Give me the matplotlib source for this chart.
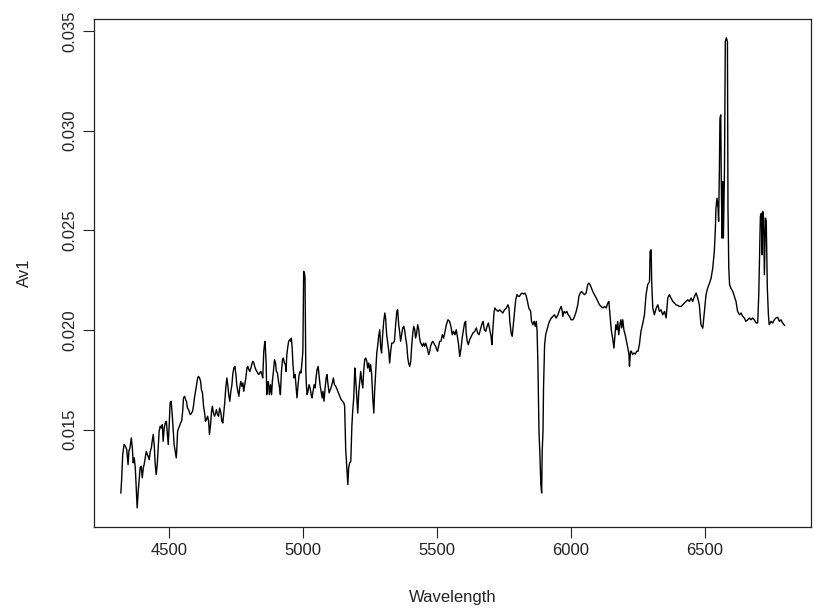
import numpy as np
import matplotlib
matplotlib.use("Agg")
import matplotlib.pyplot as plt

#*************************************************
# Spectrum Av1, in pieces
#*************************************************
wl_a = [4319, 4322, 4326, 4331, 4336, 4341, 4346, 4349, 4353, 4358, 4362, 4365, 4369, 4373,
        4377, 4380, 4384, 4388, 4391, 4395, 4399, 4403, 4406, 4410, 4414, 4418, 4421, 4425,
        4429, 4433, 4436, 4440, 4444, 4447, 4451, 4455, 4459, 4462, 4466, 4470, 4474, 4477,
        4481, 4485, 4489, 4492, 4496, 4500, 4503, 4507, 4511, 4515, 4518, 4522, 4526, 4528,
        4531, 4535, 4538, 4542, 4546, 4550, 4553, 4557, 4561, 4564, 4568, 4572, 4576, 4579,
        4583, 4587, 4591, 4594, 4598, 4602, 4606, 4609, 4613, 4617, 4620, 4624, 4628, 4632,
        4635, 4639, 4643, 4647, 4650, 4654, 4658, 4661, 4665, 4669, 4673, 4676, 4680, 4684,
        4688]
av1_a = [0.01182, 0.01249, 0.01375, 0.01425, 0.01416, 0.01400, 0.01324, 0.01391, 0.01408,
         0.01458, 0.01408, 0.01333, 0.01358, 0.01308, 0.01191, 0.01107, 0.01191, 0.01258,
         0.01308, 0.01316, 0.01258, 0.01308, 0.01324, 0.01358, 0.01391, 0.01375, 0.01366,
         0.01349, 0.01391, 0.01408, 0.01441, 0.01475, 0.01416, 0.01333, 0.01274, 0.01324,
         0.01425, 0.01491, 0.01517, 0.01508, 0.01525, 0.01441, 0.01508, 0.01533, 0.01542,
         0.01491, 0.01425, 0.01533, 0.01634, 0.01642, 0.01575, 0.01491, 0.01425, 0.01391,
         0.01358, 0.01400, 0.01491, 0.01508, 0.01517, 0.01533, 0.01542, 0.01592, 0.01659,
         0.01667, 0.01650, 0.01642, 0.01608, 0.01600, 0.01583, 0.01575, 0.01583, 0.01592,
         0.01625, 0.01659, 0.01692, 0.01725, 0.01759, 0.01767, 0.01759, 0.01742, 0.01700,
         0.01684, 0.01617, 0.01583, 0.01542, 0.01550, 0.01567, 0.01542, 0.01475, 0.01525,
         0.01592, 0.01617, 0.01583, 0.01567, 0.01583, 0.01600, 0.01575, 0.01567, 0.01608]

wl_b = [4693, 4696, 4700, 4704, 4707, 4711, 4715, 4719, 4722, 4726, 4730, 4734, 4737, 4741,
        4745, 4749, 4752, 4756, 4760, 4763, 4767, 4771, 4775, 4778, 4782, 4786, 4790, 4793,
        4797, 4801, 4805, 4808, 4812, 4816, 4819, 4823, 4827, 4831, 4834, 4838, 4842, 4846,
        4849, 4853, 4857, 4859, 4862, 4864, 4867, 4870, 4874, 4878, 4882, 4885, 4889, 4893,
        4897, 4900, 4904, 4908, 4912, 4915, 4919, 4923, 4926, 4930, 4934, 4936, 4939, 4943,
        4946, 4950, 4954, 4956, 4959, 4962, 4966, 4970, 4974, 4977, 4981, 4985, 4989, 4992,
        4996, 4999, 5001, 5002, 5005, 5007, 5010, 5012, 5015, 5018, 5022, 5026, 5030, 5033,
        5037, 5041, 5045, 5048, 5052, 5056, 5059, 5063, 5067, 5071, 5074, 5078, 5082, 5086,
        5089, 5093, 5097]
av1_b = [0.01583, 0.01542, 0.01533, 0.01592, 0.01634, 0.01709, 0.01759, 0.01717, 0.01675,
         0.01642, 0.01692, 0.01725, 0.01776, 0.01809, 0.01817, 0.01776, 0.01725, 0.01692,
         0.01667, 0.01709, 0.01742, 0.01717, 0.01734, 0.01692, 0.01725, 0.01759, 0.01809,
         0.01817, 0.01801, 0.01792, 0.01809, 0.01826, 0.01842, 0.01834, 0.01817, 0.01801,
         0.01792, 0.01784, 0.01776, 0.01784, 0.01792, 0.01776, 0.01759, 0.01893, 0.01943,
         0.01909, 0.01826, 0.01675, 0.01725, 0.01742, 0.01675, 0.01725, 0.01675, 0.01742,
         0.01792, 0.01851, 0.01834, 0.01792, 0.01784, 0.01742, 0.01709, 0.01675, 0.01792,
         0.01851, 0.01859, 0.01834, 0.01826, 0.01792, 0.01876, 0.01918, 0.01943, 0.01951,
         0.01943, 0.01959, 0.01909, 0.01826, 0.01759, 0.01776, 0.01709, 0.01659, 0.01725,
         0.01776, 0.01792, 0.01784, 0.01842, 0.01893, 0.02160, 0.02294, 0.02285, 0.02260,
         0.01792, 0.01725, 0.01675, 0.01692, 0.01725, 0.01709, 0.01675, 0.01659, 0.01692,
         0.01725, 0.01709, 0.01759, 0.01801, 0.01817, 0.01776, 0.01725, 0.01692, 0.01659,
         0.01692, 0.01642, 0.01709, 0.01759, 0.01776, 0.01725, 0.01684]

wl_c = [5104, 5109, 5113, 5117, 5122, 5127, 5132, 5137, 5142, 5147, 5152, 5155, 5159, 5163,
        5167, 5170, 5174, 5178, 5182, 5185, 5189, 5193, 5196, 5200, 5204, 5208, 5211, 5215,
        5219, 5223, 5226, 5230, 5234, 5238, 5241, 5245, 5249, 5252, 5256, 5260, 5264, 5267,
        5271, 5275, 5279, 5282, 5286, 5290, 5293, 5297, 5301, 5305, 5308, 5312, 5316, 5320,
        5323, 5327, 5331, 5336, 5341, 5346, 5350, 5353, 5357, 5361, 5364, 5368, 5372, 5376,
        5379, 5383, 5387, 5391, 5394, 5398, 5402, 5405, 5409, 5413, 5417, 5420, 5424, 5428,
        5432, 5435, 5439, 5443, 5446, 5450, 5454, 5458, 5461, 5465, 5469, 5473, 5476, 5480,
        5484, 5488, 5491, 5495, 5499, 5502, 5506, 5510]
av1_c = [0.01709, 0.01734, 0.01759, 0.01725, 0.01717, 0.01700, 0.01684, 0.01667, 0.01650,
         0.01642, 0.01634, 0.01617, 0.01400, 0.01308, 0.01224, 0.01308, 0.01333, 0.01341,
         0.01517, 0.01592, 0.01659, 0.01809, 0.01759, 0.01675, 0.01583, 0.01692, 0.01734,
         0.01792, 0.01742, 0.01709, 0.01792, 0.01851, 0.01859, 0.01842, 0.01809, 0.01834,
         0.01792, 0.01826, 0.01776, 0.01659, 0.01583, 0.01692, 0.01792, 0.01884, 0.01926,
         0.01968, 0.02001, 0.01909, 0.01884, 0.01976, 0.02043, 0.02085, 0.02060, 0.01976,
         0.01934, 0.01893, 0.01834, 0.01893, 0.01934, 0.01934, 0.01943, 0.02035, 0.02093,
         0.02101, 0.02026, 0.01984, 0.01943, 0.01976, 0.02010, 0.02018, 0.02001, 0.01959,
         0.01926, 0.01859, 0.01834, 0.01817, 0.01842, 0.01909, 0.01976, 0.02018, 0.02001,
         0.01959, 0.01984, 0.02026, 0.02001, 0.01959, 0.01934, 0.01926, 0.01918, 0.01934,
         0.01918, 0.01934, 0.01918, 0.01901, 0.01876, 0.01893, 0.01918, 0.01934, 0.01943,
         0.01934, 0.01926, 0.01918, 0.01901, 0.01893, 0.01918, 0.01943]

wl_d = [5515, 5520, 5525, 5530, 5535, 5541, 5547, 5552, 5557, 5562, 5567, 5572, 5576, 5580,
        5585, 5590, 5594, 5599, 5603, 5607, 5609, 5613, 5617, 5622, 5628, 5634, 5641, 5647,
        5652, 5657, 5662, 5667, 5672, 5677, 5682, 5687, 5692, 5697, 5702, 5705, 5709, 5713,
        5716, 5721, 5728, 5734, 5740, 5746, 5752, 5759, 5765, 5769, 5772, 5777, 5781, 5785,
        5790, 5794, 5799, 5804, 5808, 5813, 5818, 5823, 5828, 5833, 5838, 5843]
av1_d = [0.01943, 0.01976, 0.01959, 0.01993, 0.02026, 0.02051, 0.02043, 0.02018, 0.01976,
         0.01993, 0.01976, 0.02001, 0.01968, 0.01934, 0.01867, 0.01909, 0.01959, 0.02001,
         0.02035, 0.02043, 0.01984, 0.01943, 0.01926, 0.01951, 0.01968, 0.01984, 0.01993,
         0.02010, 0.01984, 0.01976, 0.02001, 0.02026, 0.02043, 0.02001, 0.01993, 0.02018,
         0.02035, 0.02001, 0.01968, 0.01926, 0.02010, 0.02085, 0.02110, 0.02101, 0.02093,
         0.02101, 0.02093, 0.02085, 0.02101, 0.02110, 0.02126, 0.02110, 0.02043, 0.01984,
         0.01968, 0.02026, 0.02093, 0.02151, 0.02177, 0.02168, 0.02168, 0.02180, 0.02185,
         0.02180, 0.02185, 0.02173, 0.02143, 0.02110]

wl_e = [5850, 5853, 5858, 5863, 5867, 5871, 5874, 5877, 5881, 5884, 5888, 5891, 5893, 5896,
        5898, 5902, 5906, 5911, 5916, 5920, 5927, 5933, 5939, 5945, 5952, 5958, 5964, 5968,
        5970, 5975, 5980, 5985, 5990, 5995, 6001, 6008, 6014, 6020, 6026, 6030, 6035, 6040,
        6045, 6051, 6057, 6063, 6067, 6072, 6077, 6082, 6088, 6095, 6101, 6107, 6113, 6120,
        6126, 6132, 6138, 6142, 6144, 6147, 6151, 6154, 6157, 6161, 6164, 6168, 6172, 6175,
        6179, 6183, 6187, 6190, 6194, 6198, 6203, 6208, 6213, 6217, 6219, 6223, 6226, 6231,
        6236, 6241, 6246, 6251, 6256]
av1_e = [0.02093, 0.02043, 0.02026, 0.02043, 0.02018, 0.02043, 0.01993, 0.01826, 0.01492,
         0.01391, 0.01224, 0.01182, 0.01391, 0.01492, 0.01709, 0.01926, 0.01976, 0.02001,
         0.02026, 0.02043, 0.02060, 0.02068, 0.02076, 0.02060, 0.02076, 0.02101, 0.02118,
         0.02093, 0.02068, 0.02093, 0.02085, 0.02093, 0.02076, 0.02068, 0.02051, 0.02051,
         0.02068, 0.02093, 0.02126, 0.02168, 0.02185, 0.02193, 0.02185, 0.02177, 0.02185,
         0.02227, 0.02235, 0.02227, 0.02210, 0.02193, 0.02177, 0.02160, 0.02143, 0.02126,
         0.02118, 0.02110, 0.02118, 0.02110, 0.02135, 0.02143, 0.02110, 0.02060, 0.02001,
         0.01976, 0.01951, 0.01909, 0.01959, 0.02026, 0.02001, 0.02043, 0.01976, 0.02026,
         0.02051, 0.02010, 0.02051, 0.02001, 0.01976, 0.01943, 0.01909, 0.01876, 0.01817,
         0.01893, 0.01893, 0.01876, 0.01884, 0.01879, 0.01893, 0.01893, 0.01926]

wl_f = [6262, 6269, 6275, 6281, 6287, 6294, 6296, 6300, 6302, 6306, 6312, 6319, 6325, 6331,
        6337, 6343, 6350, 6356, 6362, 6368, 6374, 6381, 6387, 6393, 6399, 6406, 6412, 6418,
        6424, 6430, 6437, 6443, 6449, 6455, 6462, 6468, 6474, 6480, 6486, 6493, 6499, 6505,
        6511, 6518, 6524, 6530, 6536, 6540, 6542, 6546, 6550, 6552, 6555, 6557, 6560, 6562,
        6565, 6567, 6570, 6574, 6577, 6581, 6585, 6587, 6590, 6593, 6598, 6605, 6611, 6617,
        6623, 6630, 6636, 6642, 6648, 6654, 6661, 6667, 6673, 6679, 6685, 6692, 6698, 6702,
        6705, 6708, 6712, 6714, 6717, 6720, 6723, 6727, 6730, 6734, 6738, 6741, 6748, 6754,
        6760, 6766, 6773, 6779, 6785, 6791, 6798]
av1_f = [0.01993, 0.02035, 0.02076, 0.02177, 0.02227, 0.02243, 0.02394, 0.02402, 0.02243,
         0.02110, 0.02076, 0.02110, 0.02126, 0.02093, 0.02101, 0.02076, 0.02093, 0.02060,
         0.02160, 0.02177, 0.02160, 0.02143, 0.02135, 0.02126, 0.02123, 0.02118, 0.02118,
         0.02126, 0.02135, 0.02143, 0.02151, 0.02143, 0.02160, 0.02143, 0.02168, 0.02185,
         0.02160, 0.02126, 0.02026, 0.02009, 0.02093, 0.02177, 0.02210, 0.02235, 0.02260,
         0.02310, 0.02394, 0.02511, 0.02611, 0.02661, 0.02611, 0.02544, 0.02811, 0.03062,
         0.03079, 0.02745, 0.02461, 0.02745, 0.02461, 0.02811, 0.03446, 0.03466, 0.03446,
         0.02611, 0.02310, 0.02227, 0.02210, 0.02193, 0.02168, 0.02143, 0.02093, 0.02076,
         0.02085, 0.02068, 0.02060, 0.02043, 0.02051, 0.02060, 0.02051, 0.02060, 0.02051,
         0.02035, 0.02035, 0.02177, 0.02377, 0.02569, 0.02586, 0.02377, 0.02594, 0.02561,
         0.02277, 0.02561, 0.02544, 0.02210, 0.02076, 0.02026, 0.02043, 0.02035, 0.02051,
         0.02060, 0.02063, 0.02043, 0.02051, 0.02035, 0.02023]

x_ticks = [4500, 5000, 5500, 6000, 6500]
y_ticks = [0.015, 0.020, 0.025, 0.030, 0.035]
y_tick_labels = ["0.015", "0.020", "0.025", "0.030", "0.035"]

wavelength = np.concatenate([wl_a, wl_b, wl_c, wl_d, wl_e, wl_f])
av1 = np.concatenate([av1_a, av1_b, av1_c, av1_d, av1_e, av1_f])

plt.rcParams["font.family"] = ["Liberation Sans", "DejaVu Sans"]

fig = plt.figure(figsize=(8.15, 6.14), dpi=100)
ax = fig.add_axes([0.1157, 0.1422, 0.8794, 0.8269])

ax.plot(wavelength, av1, color="black", lw=1.0)
ax.margins(0.04)

ax.set_xticks(x_ticks)
ax.set_yticks(y_ticks)
ax.set_yticklabels(y_tick_labels, rotation=90, va="center")
ax.tick_params(direction="out", length=8, width=0.8, labelsize=12, colors="#222222")
ax.tick_params(axis="x", pad=4)
ax.tick_params(axis="y", pad=4)
for s in ax.spines.values():
    s.set_linewidth(0.9)
    s.set_color("#222222")

ax.set_xlabel("Wavelength", fontsize=12, color="#222222", va="center")
ax.xaxis.set_label_coords(0.5, -0.140)
ax.set_ylabel("Av1", fontsize=12, color="#222222", va="center")
ax.yaxis.set_label_coords(-0.097, 0.5)

fig.savefig("out.png", dpi=100)
